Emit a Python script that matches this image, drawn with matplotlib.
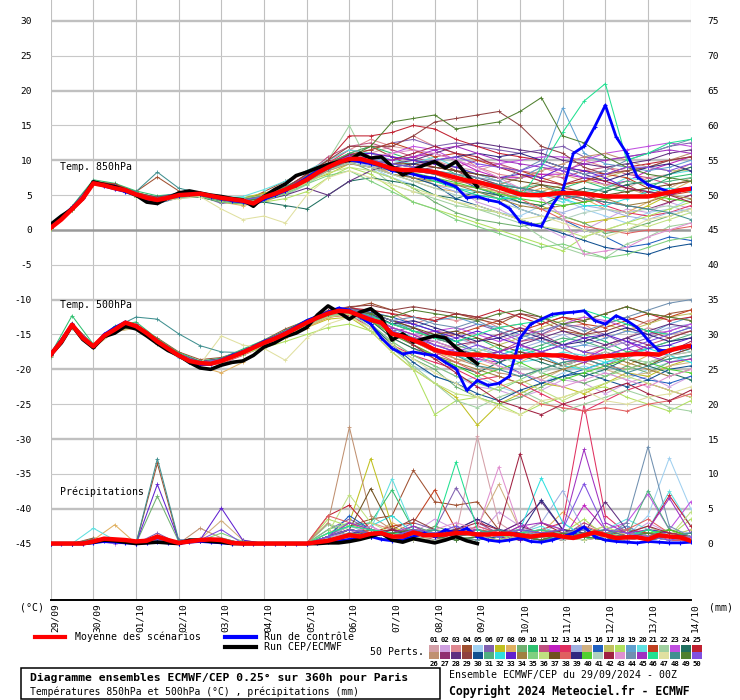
import matplotlib
matplotlib.use('Agg')
import matplotlib.pyplot as plt
from matplotlib.lines import Line2D
from matplotlib.patches import Rectangle
import numpy as np

# ---------------- DATA ----------------
date_labels = ['29/09', '30/09', '01/10', '02/10', '03/10', '04/10', '05/10', '06/10',
               '07/10', '08/10', '09/10', '10/10', '11/10', '12/10', '13/10', '14/10']
left_ticks = list(range(-45, 31, 5))
right_tick_labels = [str(v + 45) for v in left_ticks]

# thick series, 6-hourly (61 steps, 29/09 00Z -> 14/10 00Z)
mean850 = [0.3,1.5,3.0,4.5,6.7,6.4,6.0,5.7,5.1,4.6,4.3,4.6,5.0,5.1,5.2,4.9,4.6,4.4,4.2,3.8,
           4.7,5.2,5.8,6.4,7.2,8.2,9.0,9.7,10.2,10.2,9.8,9.3,8.8,8.6,8.6,8.5,8.3,7.9,7.5,7.1,
           6.9,6.5,6.1,5.6,5.1,5.0,5.0,5.2,5.3,5.3,5.2,5.0,4.8,4.8,4.8,4.8,4.8,5.1,5.4,5.7,5.9]
control850 = [0.5,1.8,3.2,4.6,6.8,6.3,5.9,5.5,5.0,4.5,4.2,4.6,4.9,5.1,5.1,4.8,4.5,4.2,4.0,3.6,
              4.4,5.0,5.6,6.5,7.5,8.5,9.3,9.8,10.0,9.8,9.5,9.2,8.5,8.3,8.0,7.6,7.4,6.8,6.2,4.6,
              4.8,4.3,4.0,3.1,1.2,0.8,0.5,3.5,5.7,11.0,12.0,14.8,17.9,13.4,11.0,7.6,6.5,6.0,5.5,5.8,6.0]
cep850 = [0.8,2.0,3.0,4.5,6.9,6.5,6.2,5.7,5.0,4.0,3.8,4.6,5.3,5.6,5.3,5.0,4.8,4.5,4.3,3.4,
          4.8,5.8,6.6,7.8,8.3,8.9,9.4,9.8,10.0,11.0,10.3,10.5,9.1,7.9,8.6,9.3,9.8,8.9,9.8,7.9,6.2]

mean500 = [-17.9,-16.0,-13.6,-15.5,-16.7,-15.2,-14.3,-13.3,-13.8,-14.8,
           -16.0,-17.0,-18.0,-18.8,-19.1,-19.2,-18.8,-18.2,-17.6,-16.9,
           -16.2,-15.6,-14.9,-14.1,-13.3,-12.6,-12.0,-11.6,-11.7,-12.3,
           -12.9,-13.3,-14.9,-15.3,-15.8,-16.4,-17.2,-17.6,-17.8,-17.9,
           -17.9,-18.0,-18.2,-18.2,-18.2,-18.0,-17.9,-18.0,-18.0,-18.3,
           -18.5,-18.3,-18.1,-18.0,-17.9,-17.8,-17.8,-17.9,-17.3,-16.9,-16.6]
control500 = [-17.8,-15.8,-13.5,-15.6,-16.8,-15.0,-14.0,-13.2,-13.9,-15.0,
              -16.2,-17.1,-18.1,-18.9,-19.3,-19.3,-18.7,-18.0,-17.5,-16.8,
              -16.0,-15.5,-14.8,-13.9,-13.0,-12.4,-11.8,-11.2,-11.5,-12.5,
              -13.5,-15.5,-17.0,-17.8,-17.5,-17.8,-18.0,-19.0,-19.9,-23.0,
              -21.6,-22.3,-22.0,-21.0,-15.5,-13.5,-12.8,-12.1,-11.9,-11.8,
              -11.6,-13.0,-13.5,-12.3,-13.0,-14.0,-15.8,-17.3,-17.3,-17.0,-16.6]
cep500 = [-17.9,-16.2,-13.7,-15.7,-16.9,-15.3,-14.8,-13.8,-14.2,-15.2,
          -16.3,-17.3,-18.0,-19.0,-19.8,-20.0,-19.4,-19.0,-18.8,-18.0,
          -16.8,-16.2,-15.3,-14.8,-14.0,-12.2,-10.9,-11.8,-12.8,-11.8,
          -11.3,-12.5,-15.8,-14.9,-16.1,-15.6,-15.2,-15.5,-16.9,-18.0,-19.2]

meanP = [0,0,0,0,0.3,0.7,0.6,0.5,0.3,0.4,1.0,0.5,0.1,0.3,0.5,0.6,0.5,0.1,0,0,
         0,0,0,0,0,0.2,0.4,0.8,1.2,1.0,1.4,1.5,1.0,1.0,1.6,1.2,1.2,1.3,1.5,1.5,
         1.3,1.3,1.4,1.4,1.2,1.0,1.2,1.3,1.0,0.8,1.2,1.6,1.2,0.8,0.9,0.9,0.6,1.2,1.0,0.9,0.4]
controlP = [0,0,0,0,0.1,0.3,0.2,0.1,0,0.1,0.2,0.1,0,0.2,0.3,0.2,0.1,0,0,0,
            0,0,0,0,0,0.1,0.2,0.4,0.6,0.8,1.0,0.6,0.4,0.5,1.0,1.5,1.0,2.0,1.5,2.2,
            1.0,0.5,0.3,0.5,0.8,0.3,0.2,0.5,1.0,1.5,2.4,1.0,0.5,0.3,0.2,0.1,0.3,0.2,0.1,0.1,0.2]
cepP = [0,0,0,0,0.2,0.5,0.4,0.2,0,0.1,0.2,0.1,0,0.5,0.5,0.3,0.2,0,0,0,
        0,0,0,0,0,0,0.1,0.1,0.3,0.6,1.0,1.5,0.5,0.2,0.7,0.4,0.1,0.5,1.0,0.4,0]

# 50 perturbed members, 12-hourly (31 steps)
member_colors = ['#d4a0a8','#d0a0e0','#e08890','#a05030','#a0d0f0','#8060b0','#c0c020','#e0b060','#70b070','#30c070',
                 '#c05080','#c020c0','#e03060','#a0b0e0','#d0b080','#2060c0','#c0c060','#b0e060','#60a0d0','#60e0e0',
                 '#c04020','#a0d0a0','#c050e0','#207060','#c02030','#c09070','#903070','#603080','#904040','#105090',
                 '#50b080','#30e0e0','#6020d0','#a08040','#80d080','#c0e080','#705020','#e06060','#302880','#50d030',
                 '#b0d0c0','#a02040','#e090d0','#7090b0','#a030c0','#20e090','#e0e0a0','#409090','#508030','#8050e0']

t850_members = [
 [0.5,2.8,6.5,6.0,4.8,4.5,5.2,5.0,4.0,3.8,4.5,5.5,7.5,9.5,10.5,11.0,12.0,11.5,10.0,9.0,8.5,9.5,8.0,7.0,6.5,5.0,4.0,6.0,7.5,8.0,9.0],
 [0.2,3.2,7.0,6.5,5.3,4.0,4.8,5.2,4.6,4.0,5.0,6.0,8.0,9.0,11.0,10.5,9.0,8.0,7.5,6.0,4.0,3.0,1.5,0.5,-1.0,0.0,1.5,3.0,2.5,4.0,3.0],
 [0.4,3.0,6.6,6.3,5.1,4.6,5.0,4.8,4.2,4.4,5.2,6.5,8.5,10.0,11.5,13.0,12.0,13.5,12.0,11.0,9.0,8.0,7.5,9.0,8.0,10.0,9.0,8.5,7.0,8.0,9.5],
 [0.6,3.3,7.0,6.6,5.5,7.6,5.6,5.0,4.5,4.0,5.5,7.0,8.5,9.5,11.0,12.0,10.5,9.0,10.0,8.5,7.0,6.0,5.5,6.5,5.0,4.0,5.5,6.5,5.0,4.0,5.0],
 [0.3,2.9,6.7,6.1,5.0,4.0,4.7,5.0,4.4,3.9,4.2,5.0,6.5,8.5,10.0,9.0,7.5,6.5,5.0,4.0,3.0,2.5,2.0,3.5,4.5,3.0,2.0,1.0,2.5,3.0,4.5],
 [0.2,3.1,6.9,6.0,5.2,4.3,5.1,4.9,3.8,4.1,4.8,6.2,7.8,9.2,10.8,11.5,12.5,13.0,12.0,12.5,12.0,11.5,11.0,11.5,12.0,10.5,10.0,10.5,11.0,12.0,12.5],
 [0.4,3.0,6.4,6.2,5.1,4.5,5.3,5.1,4.4,4.6,5.3,6.0,7.0,8.0,9.5,10.0,9.5,9.0,8.0,7.0,6.5,5.5,4.0,3.5,2.0,1.0,1.5,2.0,3.5,5.0,6.0],
 [0.3,2.8,6.6,6.4,5.4,4.6,5.0,5.2,4.0,3.5,4.0,5.2,7.0,8.8,10.2,9.5,8.0,7.0,6.0,5.5,4.5,4.0,5.0,6.0,5.5,4.5,3.0,2.5,4.0,5.5,7.0],
 [0.1,3.2,6.8,6.1,4.9,4.4,5.0,4.9,4.3,4.2,4.4,5.4,7.0,8.6,9.8,8.5,7.5,6.0,4.0,2.5,1.5,1.0,0.5,1.0,2.0,1.0,-0.5,0.0,1.0,2.0,3.0],
 [0.5,3.4,7.2,6.7,5.6,4.9,5.2,5.3,4.8,4.6,5.0,6.2,7.8,9.6,11.0,12.0,11.0,10.0,9.5,8.0,7.5,6.5,5.5,5.0,6.0,7.0,6.0,5.5,6.0,7.5,8.0],
 [0.2,3.0,6.7,6.3,5.2,4.3,4.9,5.0,4.3,4.1,4.6,5.8,8.0,10.5,12.0,12.5,11.5,10.5,9.5,9.0,10.0,9.5,8.5,8.0,7.5,8.5,9.0,8.0,7.5,6.5,7.0],
 [0.4,3.1,7.0,6.2,5.0,4.4,5.0,5.1,4.4,4.2,4.9,6.0,7.6,9.0,10.5,11.0,10.0,10.5,11.0,10.0,8.5,7.5,7.5,8.0,8.0,7.5,6.5,7.0,8.5,9.5,10.5],
 [0.6,3.2,6.6,6.0,5.0,4.1,4.6,5.0,4.1,4.0,4.7,5.6,7.4,9.6,11.5,11.0,10.5,10.0,9.0,8.5,8.0,7.0,6.0,5.0,4.5,5.0,3.5,2.5,2.0,2.5,3.5],
 [0.3,2.9,6.8,6.2,5.1,4.2,5.0,5.0,4.3,4.3,4.8,5.8,7.2,8.8,10.0,9.2,8.5,8.0,6.5,5.5,5.0,4.5,4.0,3.0,2.5,3.5,3.0,2.0,1.5,2.5,3.0],
 [0.2,2.8,6.5,6.1,4.8,4.0,4.8,4.9,4.2,3.9,4.3,5.3,6.8,8.6,9.8,9.5,8.0,7.5,6.5,6.0,5.5,5.0,6.0,7.0,8.0,7.0,6.5,6.0,5.0,6.0,7.5],
 [0.5,3.3,6.9,6.5,5.3,4.7,5.3,5.2,4.5,4.4,5.0,6.0,7.5,9.2,10.4,10.0,9.0,8.5,8.0,7.5,6.0,5.0,3.0,2.0,1.5,0.0,-1.0,-2.5,-2.0,-1.0,-1.5],
 [0.4,3.0,6.7,6.0,4.9,4.3,5.0,4.8,4.5,4.5,5.0,6.0,7.0,8.5,9.5,9.0,8.0,7.0,7.0,6.5,6.0,5.5,5.0,5.5,6.5,7.0,7.5,8.5,9.0,8.5,8.5],
 [0.2,3.1,6.8,6.2,5.0,4.1,4.7,4.7,4.0,3.7,4.0,4.5,5.5,7.5,9.0,8.0,6.0,4.0,3.0,2.0,1.0,0.0,-1.0,-2.0,-3.0,-1.0,0.0,1.0,2.0,3.0,4.0],
 [0.3,3.0,6.9,6.4,5.2,4.4,5.1,5.2,4.4,4.1,4.5,5.5,7.0,9.0,10.4,10.5,9.5,9.0,8.5,7.5,7.0,6.5,7.5,9.0,17.5,11.0,9.5,9.0,8.5,9.0,10.0],
 [0.4,3.2,6.8,6.1,5.0,4.5,5.2,5.0,4.6,4.8,5.8,7.0,8.5,10.0,11.5,11.0,10.0,9.5,10.5,9.0,8.0,7.0,6.0,5.0,4.0,5.5,6.0,7.5,7.0,8.0,8.5],
 [0.6,3.1,6.9,6.6,5.4,4.6,5.0,5.1,4.3,4.0,4.6,5.8,7.6,9.2,10.8,11.5,12.5,11.5,10.5,11.0,10.0,9.0,8.5,7.5,6.5,7.0,8.0,7.5,6.0,5.0,5.5],
 [0.2,2.9,6.7,6.0,4.8,4.2,4.8,5.0,4.2,3.9,4.3,5.0,6.5,10.0,15.0,9.0,6.5,5.5,4.5,3.5,3.0,2.0,1.0,-1.0,-2.5,-3.5,-4.0,-2.0,-1.0,0.5,1.0],
 [0.3,3.0,6.8,6.3,5.1,4.3,5.0,5.0,4.4,4.2,4.7,5.9,7.4,9.4,10.6,10.0,11.0,12.0,11.5,10.0,9.0,9.5,10.0,10.5,10.5,10.0,11.0,11.5,12.0,12.5,12.0],
 [0.4,3.1,6.6,6.0,5.0,4.0,4.6,4.7,4.0,3.8,4.0,3.5,3.0,5.0,7.0,7.5,7.0,6.5,5.0,4.5,5.5,5.0,4.0,3.5,5.0,6.0,5.5,6.5,7.0,8.0,9.0],
 [0.5,3.2,6.9,6.4,5.2,4.5,5.1,5.0,4.3,4.1,4.8,6.0,8.0,10.0,13.5,13.5,14.0,15.0,14.5,13.0,12.0,11.0,10.5,10.0,9.0,8.5,8.0,9.0,9.5,10.0,10.5],
 [0.3,3.0,6.7,6.1,4.9,4.2,4.9,5.0,4.5,4.3,4.6,5.5,7.0,8.5,9.5,9.0,8.5,8.0,7.5,6.5,6.0,6.5,7.5,8.5,9.5,10.5,11.0,10.0,9.0,10.0,11.0],
 [0.4,3.1,6.8,6.3,5.0,4.4,5.0,5.1,4.2,4.2,4.8,5.8,7.3,9.0,10.0,9.5,9.0,8.5,9.0,8.5,7.5,6.5,6.0,5.5,5.0,4.5,4.0,3.5,3.0,4.0,5.0],
 [0.2,2.9,6.6,6.2,5.0,4.1,4.8,4.9,4.0,3.9,4.3,5.0,6.0,5.0,7.0,8.5,9.5,10.0,11.0,12.0,12.5,12.0,11.5,11.0,10.0,9.5,9.0,9.5,10.0,11.0,11.5],
 [0.5,3.2,6.9,6.5,5.3,4.7,5.2,5.1,4.4,4.2,4.8,6.0,8.0,10.0,12.0,12.0,12.0,13.5,15.5,16.0,16.5,17.0,15.0,12.0,11.0,9.0,8.0,8.5,9.0,10.0,10.5],
 [0.3,3.0,6.7,6.0,4.8,3.8,4.6,4.8,4.1,4.0,4.4,5.4,7.0,8.7,10.0,9.5,8.5,7.5,6.5,4.5,3.5,2.5,1.5,0.5,-0.5,-1.5,-2.5,-3.0,-3.5,-2.5,-2.0],
 [0.4,3.1,6.9,6.2,5.1,4.4,5.1,5.0,4.3,4.3,4.9,6.0,7.5,9.0,10.5,10.0,9.5,9.0,8.5,8.0,7.0,6.5,6.0,6.5,5.5,5.0,6.0,7.0,6.5,7.0,7.5],
 [0.2,3.0,6.8,6.1,5.0,4.3,4.9,5.0,4.4,4.1,4.7,5.7,7.2,9.0,10.2,9.5,8.5,8.0,7.0,6.0,5.5,4.5,5.0,5.5,4.5,3.5,3.5,4.5,5.5,6.0,5.5],
 [0.5,3.2,6.8,6.4,5.1,4.4,5.0,5.2,4.5,4.2,4.6,5.6,7.2,9.2,10.8,11.0,10.5,10.0,9.5,9.0,8.0,7.5,8.0,7.5,9.0,8.5,7.5,6.0,5.5,5.0,6.0],
 [0.3,3.0,6.6,6.2,5.1,4.2,4.9,4.9,4.3,4.1,4.6,5.6,7.0,8.6,9.6,9.0,8.0,7.5,7.0,6.5,5.5,4.5,3.5,3.0,3.5,4.0,4.5,3.5,4.0,5.0,4.5],
 [0.2,2.9,6.7,6.1,4.8,4.0,4.7,4.8,4.0,3.8,4.2,5.2,6.6,7.8,8.5,7.0,5.5,4.0,3.0,1.5,0.5,-0.5,-1.5,-2.5,-2.0,-3.0,-4.0,-3.5,-2.5,-1.5,-1.0],
 [0.3,3.0,6.8,6.2,5.0,4.2,4.9,5.0,4.2,4.0,4.5,5.4,6.8,8.2,9.0,8.5,7.5,6.0,5.0,4.0,3.0,2.5,1.5,0.5,0.0,-1.0,0.0,1.0,0.5,1.5,2.5],
 [0.4,3.1,6.9,6.3,5.1,4.4,5.0,5.1,4.4,4.3,4.8,5.8,7.4,9.2,10.4,10.0,9.5,9.5,9.0,8.5,8.0,7.5,7.0,6.5,6.0,5.5,5.0,5.5,6.0,6.5,7.0],
 [0.5,3.2,6.8,6.3,5.2,4.5,5.1,5.0,4.4,4.2,4.7,5.8,7.3,9.1,10.3,9.8,9.0,8.5,8.0,7.0,6.5,5.5,4.5,3.0,1.5,0.5,0.0,-0.5,0.0,0.0,0.5],
 [0.3,3.0,6.7,6.2,5.0,4.3,5.0,5.0,4.3,4.2,4.7,5.7,7.0,8.8,10.0,9.5,9.0,9.5,10.0,10.5,11.0,10.5,11.0,10.0,9.0,8.0,7.0,8.0,9.0,9.5,8.5],
 [0.2,2.9,6.8,6.2,5.0,4.3,5.0,5.0,4.3,4.3,4.8,5.8,7.2,9.0,10.2,9.6,8.6,8.2,7.5,6.8,6.0,5.2,4.5,4.0,3.5,4.0,4.5,5.0,5.0,4.5,4.0],
 [0.4,3.0,6.7,6.1,4.9,4.2,4.9,5.0,4.3,4.2,4.7,5.6,7.0,8.6,9.6,9.0,8.0,7.0,6.0,5.0,4.5,4.0,3.0,2.0,1.5,2.5,3.0,2.5,3.0,3.5,2.5],
 [0.5,3.2,6.9,6.4,5.2,4.4,5.0,5.1,4.4,4.2,4.8,5.9,7.6,9.4,10.8,10.5,10.0,11.0,12.0,11.0,10.5,9.0,8.0,7.0,6.5,7.5,7.0,6.0,5.5,5.0,4.0],
 [0.3,3.0,6.7,6.2,5.0,4.2,4.9,5.0,4.3,4.2,4.6,5.6,7.0,8.8,10.0,10.5,11.0,11.5,11.0,10.0,9.0,7.5,6.0,4.5,2.0,-3.5,-3.0,-2.5,-1.0,0.0,1.0],
 [0.4,3.1,6.8,6.3,5.1,4.3,5.0,5.1,4.4,4.2,4.7,5.7,7.2,9.0,10.2,10.0,9.5,9.0,8.5,8.0,7.5,7.0,8.5,10.0,9.0,8.0,8.5,10.0,11.0,12.0,13.0],
 [0.3,3.0,6.8,6.2,5.0,4.2,4.9,5.0,4.3,4.1,4.6,5.6,7.1,8.9,10.1,10.5,10.0,10.5,11.5,12.0,11.0,10.0,9.5,9.0,8.5,9.5,10.0,10.5,11.0,11.5,11.0],
 [0.4,3.1,6.8,6.2,5.0,4.3,5.0,5.0,4.3,4.2,4.8,5.8,7.2,9.0,10.2,9.5,8.5,8.0,7.0,6.0,5.0,4.5,4.5,9.0,14.0,18.5,21.0,10.0,11.0,12.5,13.0],
 [0.2,2.9,6.6,6.0,4.8,4.0,4.5,4.8,3.0,1.5,2.0,1.0,5.0,7.5,8.5,7.5,6.5,5.5,5.0,4.0,3.5,2.5,1.5,2.0,1.0,0.0,-1.0,0.0,1.5,2.0,3.0],
 [0.4,3.0,6.8,6.3,5.5,8.3,6.0,5.3,4.4,4.2,4.6,5.6,7.0,8.7,10.0,9.5,9.0,8.5,8.0,7.5,7.0,6.5,6.0,5.5,5.0,4.5,4.0,3.5,3.0,2.5,1.5],
 [0.3,3.0,6.7,6.2,5.0,4.2,4.9,5.0,4.3,4.1,4.6,5.7,7.2,9.0,10.4,12.0,15.5,16.0,16.5,14.5,15.0,15.5,17.0,19.0,13.5,12.5,10.5,9.0,8.0,7.5,7.0],
 [0.4,3.1,6.9,6.3,5.1,4.4,5.0,5.1,4.4,4.3,4.8,5.9,7.5,9.3,10.6,10.0,9.5,9.0,10.0,10.5,9.5,9.0,8.5,9.5,8.5,7.5,8.0,9.0,9.0,8.5,9.5],
]

t500_members = [
 [-18.0,-13.8,-16.8,-14.0,-13.5,-15.8,-17.8,-19.0,-18.5,-17.2,-16.0,-14.5,-13.0,-11.5,-11.0,-12.0,-14.0,-15.0,-16.5,-17.0,-16.0,-15.0,-16.5,-18.0,-19.5,-18.0,-17.0,-15.5,-14.0,-15.0,-14.5],
 [-17.6,-13.5,-16.6,-14.2,-13.6,-16.2,-18.2,-19.3,-19.0,-17.8,-16.3,-15.0,-13.5,-12.2,-11.8,-13.5,-16.0,-18.0,-19.5,-21.0,-22.5,-23.0,-24.0,-23.0,-21.5,-22.0,-23.5,-22.0,-21.0,-22.5,-21.0],
 [-18.1,-13.7,-16.9,-14.1,-13.7,-16.0,-18.1,-19.2,-18.7,-17.5,-16.1,-14.6,-13.2,-11.8,-11.3,-11.5,-12.0,-13.5,-12.5,-13.0,-12.5,-14.0,-13.5,-15.0,-14.0,-13.5,-15.5,-14.5,-13.0,-12.5,-13.0],
 [-17.8,-13.9,-16.7,-14.5,-13.8,-15.5,-17.5,-18.6,-18.3,-17.3,-15.8,-14.2,-13.0,-11.7,-11.2,-10.5,-11.5,-12.5,-13.0,-12.0,-12.8,-13.5,-12.0,-13.0,-14.5,-15.0,-13.5,-12.5,-13.5,-12.0,-11.5],
 [-17.9,-13.6,-16.6,-14.4,-14.0,-16.3,-18.4,-19.4,-19.0,-17.9,-16.5,-15.2,-13.8,-12.4,-12.0,-14.0,-17.0,-19.5,-21.0,-22.0,-21.0,-22.5,-23.5,-22.0,-20.5,-19.5,-20.5,-21.5,-20.0,-19.0,-18.0],
 [-18.0,-13.7,-16.7,-14.3,-13.7,-15.9,-17.9,-19.0,-18.6,-17.4,-16.0,-14.7,-13.2,-11.9,-11.5,-12.5,-14.5,-14.0,-15.5,-14.5,-13.5,-14.5,-16.0,-15.0,-13.5,-14.0,-15.0,-16.5,-15.5,-14.5,-13.5],
 [-17.7,-13.4,-16.5,-14.0,-13.5,-15.8,-17.9,-19.1,-18.8,-17.7,-16.6,-15.5,-14.0,-12.8,-12.5,-14.5,-17.5,-20.0,-22.0,-24.0,-28.0,-25.0,-23.5,-22.0,-22.5,-23.5,-22.0,-20.5,-21.0,-19.5,-18.5],
 [-17.9,-13.8,-16.8,-14.6,-14.0,-16.2,-18.3,-19.6,-20.5,-19.0,-17.0,-15.5,-14.0,-12.6,-12.0,-13.0,-14.5,-16.0,-17.5,-18.5,-19.0,-20.0,-19.0,-17.5,-16.5,-17.5,-18.5,-19.5,-18.0,-17.0,-16.5],
 [-18.2,-14.0,-16.9,-14.4,-13.9,-16.1,-18.0,-19.2,-18.9,-17.6,-16.2,-14.9,-13.4,-12.1,-11.7,-13.5,-16.5,-18.5,-20.0,-22.5,-24.0,-25.0,-24.0,-22.5,-21.0,-22.0,-21.0,-19.5,-20.5,-19.0,-18.5],
 [-17.8,-12.3,-16.4,-13.8,-13.2,-15.6,-17.6,-18.8,-18.4,-17.1,-15.8,-14.4,-12.9,-11.6,-11.2,-12.0,-13.0,-14.5,-15.0,-16.0,-15.5,-17.0,-18.0,-17.0,-16.0,-15.0,-16.0,-17.5,-17.0,-16.0,-15.5],
 [-17.9,-13.6,-16.8,-14.2,-13.7,-16.0,-18.1,-19.1,-18.8,-17.6,-16.3,-15.0,-13.3,-11.8,-11.3,-12.5,-14.0,-15.5,-14.5,-15.0,-16.5,-17.5,-16.0,-15.5,-17.0,-18.5,-19.5,-18.0,-16.5,-15.5,-14.5],
 [-18.0,-13.7,-16.7,-14.3,-13.8,-16.1,-18.0,-19.0,-18.6,-17.4,-15.9,-14.6,-13.1,-11.9,-11.4,-12.8,-15.0,-16.5,-18.0,-17.0,-18.5,-19.0,-17.5,-18.0,-19.5,-18.5,-17.0,-16.0,-17.5,-18.0,-17.0],
 [-17.8,-13.5,-16.6,-14.1,-13.6,-15.9,-18.2,-19.3,-19.2,-18.0,-16.7,-15.3,-13.8,-12.5,-12.2,-14.0,-16.5,-18.0,-19.0,-20.0,-21.5,-21.0,-22.0,-23.5,-25.0,-26.0,-24.5,-23.0,-22.0,-23.0,-24.0],
 [-17.9,-13.7,-16.7,-14.2,-13.7,-16.0,-18.0,-19.1,-18.8,-17.6,-16.2,-14.9,-13.3,-12.0,-11.6,-12.5,-14.0,-15.0,-16.0,-15.5,-16.5,-18.0,-17.0,-16.0,-15.0,-16.5,-17.0,-16.0,-15.0,-14.0,-13.5],
 [-18.1,-13.9,-16.9,-14.6,-14.1,-16.4,-18.3,-19.4,-19.1,-17.9,-16.5,-15.2,-13.6,-12.3,-11.9,-13.0,-15.5,-17.0,-18.5,-19.0,-18.0,-19.5,-20.5,-21.5,-20.0,-19.0,-20.0,-21.0,-20.5,-19.5,-19.0],
 [-17.8,-13.6,-16.6,-14.1,-13.6,-15.8,-17.8,-18.9,-18.5,-17.3,-15.9,-14.5,-13.0,-11.6,-11.2,-11.8,-12.5,-13.5,-14.5,-16.0,-17.5,-19.0,-20.5,-22.0,-21.0,-20.0,-19.0,-20.5,-21.5,-22.0,-21.0],
 [-17.9,-13.7,-16.8,-14.3,-13.8,-16.1,-18.1,-19.2,-18.8,-17.6,-16.2,-14.8,-13.2,-11.9,-11.5,-13.0,-15.0,-16.0,-17.0,-18.0,-17.5,-16.5,-15.5,-14.0,-13.0,-12.5,-13.5,-14.5,-13.5,-12.5,-12.0],
 [-18.0,-13.8,-16.7,-14.4,-13.9,-16.2,-18.2,-19.3,-18.9,-17.8,-16.9,-16.0,-15.0,-14.0,-13.5,-14.5,-16.0,-20.0,-26.5,-24.5,-24.0,-25.0,-26.5,-25.0,-24.0,-23.0,-22.5,-24.0,-25.0,-26.0,-24.5],
 [-17.9,-13.6,-16.7,-14.2,-13.7,-16.0,-18.0,-19.1,-18.7,-17.5,-16.1,-14.8,-13.2,-11.9,-11.5,-12.3,-13.5,-14.0,-13.0,-12.5,-13.5,-14.0,-15.0,-16.0,-17.0,-16.5,-15.5,-14.5,-15.0,-13.5,-12.5],
 [-17.8,-13.5,-16.6,-14.1,-13.6,-15.9,-17.9,-19.0,-18.6,-17.4,-16.0,-14.6,-13.0,-11.7,-11.3,-12.6,-14.5,-16.0,-17.5,-18.0,-17.0,-18.0,-19.0,-18.5,-17.5,-18.0,-19.0,-18.5,-17.0,-16.5,-17.5],
 [-18.0,-13.7,-16.8,-14.4,-13.9,-16.2,-18.1,-19.1,-18.7,-17.5,-16.1,-14.7,-13.1,-11.8,-11.3,-12.0,-13.5,-14.5,-15.5,-15.0,-14.0,-13.0,-14.5,-13.5,-12.5,-13.5,-14.0,-13.0,-12.0,-12.5,-11.5],
 [-17.9,-13.6,-16.7,-14.3,-13.7,-16.0,-18.0,-19.0,-18.7,-17.5,-16.2,-14.9,-13.4,-12.1,-11.7,-14.0,-17.0,-19.5,-22.0,-24.5,-25.5,-24.0,-23.0,-24.5,-26.0,-25.0,-24.0,-23.0,-24.0,-25.5,-26.0],
 [-18.0,-13.8,-16.8,-14.2,-13.6,-15.9,-17.9,-19.0,-18.6,-17.4,-16.0,-14.6,-13.1,-11.8,-11.4,-12.5,-14.0,-15.0,-14.5,-14.0,-15.0,-16.0,-15.0,-14.5,-13.5,-12.5,-13.0,-14.0,-15.0,-14.5,-13.5],
 [-17.8,-13.6,-16.6,-14.2,-13.7,-16.0,-18.1,-19.2,-18.8,-17.6,-16.2,-14.8,-13.2,-11.9,-11.6,-13.0,-15.5,-17.0,-18.0,-19.5,-20.5,-19.0,-18.0,-19.0,-20.0,-21.0,-20.0,-18.5,-19.5,-20.5,-21.5],
 [-18.0,-13.8,-16.8,-14.4,-13.9,-16.1,-18.0,-19.0,-18.7,-17.5,-16.0,-14.6,-13.0,-11.7,-11.2,-11.5,-12.0,-12.5,-13.0,-12.0,-12.5,-11.5,-12.5,-13.5,-12.5,-13.0,-12.0,-11.0,-12.0,-13.0,-12.5],
 [-17.9,-13.7,-16.7,-14.3,-13.8,-16.0,-18.0,-19.1,-18.8,-17.6,-16.3,-15.0,-13.4,-12.0,-11.6,-12.5,-14.5,-16.0,-17.0,-18.5,-19.5,-20.5,-21.0,-20.0,-19.0,-18.5,-19.5,-20.0,-19.0,-18.0,-17.5],
 [-17.8,-13.5,-16.6,-14.1,-13.5,-15.8,-17.8,-18.9,-18.5,-17.3,-15.9,-14.5,-13.0,-11.6,-11.2,-12.0,-13.0,-14.0,-15.5,-16.5,-16.0,-15.0,-14.0,-15.0,-16.5,-17.5,-16.5,-15.5,-16.5,-17.5,-16.0],
 [-18.0,-13.7,-16.8,-14.3,-13.8,-16.1,-18.2,-19.3,-18.9,-17.7,-16.3,-14.9,-13.3,-11.9,-11.5,-12.8,-14.5,-15.5,-16.0,-17.0,-18.0,-17.5,-16.5,-15.5,-14.5,-15.5,-16.5,-15.5,-14.5,-13.5,-14.0],
 [-17.9,-13.6,-16.7,-14.2,-13.7,-16.0,-18.0,-19.0,-18.7,-17.5,-16.1,-14.7,-13.1,-11.8,-11.0,-10.8,-11.5,-11.0,-11.5,-12.0,-12.5,-13.0,-12.0,-12.5,-14.0,-15.0,-14.5,-13.5,-14.5,-15.5,-14.5],
 [-17.8,-13.6,-16.6,-14.2,-13.6,-15.9,-18.0,-19.1,-18.8,-17.6,-16.2,-14.8,-13.3,-12.0,-11.6,-13.5,-16.5,-19.0,-21.0,-22.0,-23.5,-24.5,-23.0,-22.0,-21.0,-20.5,-21.5,-22.5,-21.5,-20.0,-19.5],
 [-18.0,-13.8,-16.8,-14.4,-13.9,-16.2,-18.1,-19.2,-18.9,-17.7,-16.3,-14.9,-13.4,-12.0,-11.6,-12.2,-13.5,-14.5,-15.5,-16.5,-17.5,-18.5,-17.5,-16.5,-15.5,-16.0,-17.0,-18.0,-17.0,-16.0,-15.0],
 [-17.9,-13.6,-16.7,-14.3,-13.7,-16.0,-18.0,-19.0,-18.6,-17.4,-16.0,-14.7,-13.1,-11.8,-11.4,-12.5,-14.0,-15.5,-17.0,-18.0,-19.0,-18.0,-17.0,-18.0,-19.5,-20.0,-19.0,-18.0,-17.0,-18.0,-19.0],
 [-18.0,-13.7,-16.8,-14.2,-13.7,-16.1,-18.1,-19.1,-18.7,-17.6,-16.2,-14.8,-13.2,-11.9,-11.5,-12.0,-13.0,-13.5,-14.5,-15.5,-14.5,-15.5,-16.5,-17.5,-16.5,-15.5,-15.0,-16.0,-17.0,-16.5,-15.5],
 [-17.8,-13.5,-16.6,-14.1,-13.6,-15.9,-17.9,-19.0,-18.6,-17.4,-16.0,-14.6,-13.1,-11.8,-11.4,-12.5,-14.5,-16.5,-18.0,-19.0,-20.0,-21.0,-22.0,-21.0,-20.0,-19.0,-18.0,-19.0,-20.0,-21.0,-20.0],
 [-17.9,-13.7,-16.7,-14.3,-13.8,-16.1,-18.1,-19.2,-18.9,-17.8,-16.4,-15.1,-13.6,-12.3,-11.9,-13.5,-16.0,-18.0,-19.5,-21.0,-22.0,-23.0,-21.5,-20.0,-19.0,-20.0,-21.0,-20.0,-19.0,-18.5,-18.0],
 [-18.0,-13.8,-16.8,-14.4,-13.9,-16.2,-18.2,-19.3,-19.0,-17.9,-16.6,-15.3,-13.8,-12.5,-12.1,-14.5,-17.5,-20.0,-22.0,-23.5,-24.0,-22.5,-21.5,-23.0,-24.5,-23.0,-22.0,-21.0,-22.0,-23.0,-24.0],
 [-17.9,-13.6,-16.7,-14.2,-13.7,-16.0,-18.0,-19.0,-18.6,-17.4,-16.0,-14.6,-13.0,-11.7,-11.3,-12.0,-13.0,-14.0,-15.0,-14.5,-15.5,-16.5,-17.5,-18.5,-19.5,-18.5,-17.5,-18.5,-19.5,-18.0,-17.0],
 [-17.8,-13.5,-16.6,-14.1,-13.6,-15.9,-17.9,-19.0,-18.7,-17.5,-16.1,-14.7,-13.2,-11.9,-11.5,-12.5,-14.5,-16.0,-17.5,-19.0,-20.5,-22.0,-23.5,-25.0,-25.5,-26.0,-25.5,-26.0,-25.0,-24.5,-23.5],
 [-18.0,-13.7,-16.8,-14.3,-13.8,-16.1,-18.1,-19.1,-18.8,-17.6,-16.2,-14.8,-13.2,-11.9,-11.5,-12.0,-13.5,-13.0,-14.0,-15.0,-16.0,-15.5,-14.5,-15.5,-16.5,-16.0,-15.0,-14.0,-15.0,-16.0,-15.5],
 [-17.9,-13.6,-16.7,-14.2,-13.7,-16.0,-18.0,-19.0,-18.7,-17.5,-16.1,-14.8,-13.2,-11.9,-11.5,-13.0,-15.0,-16.5,-18.0,-19.5,-21.0,-20.0,-19.0,-20.5,-21.5,-20.5,-19.5,-18.5,-19.0,-20.0,-20.5],
 [-18.0,-13.7,-16.8,-14.4,-13.9,-16.2,-18.1,-19.2,-18.8,-17.6,-16.2,-14.8,-13.3,-12.0,-11.6,-12.8,-14.5,-15.5,-16.5,-17.5,-17.0,-18.0,-19.5,-20.5,-19.5,-18.5,-17.5,-18.5,-19.0,-18.0,-17.5],
 [-17.8,-13.5,-16.6,-14.1,-13.6,-15.9,-17.9,-19.0,-18.6,-17.4,-16.0,-14.6,-13.1,-11.7,-11.3,-12.5,-14.5,-16.5,-18.5,-20.5,-22.5,-24.5,-25.5,-26.5,-25.0,-24.0,-23.0,-22.0,-23.5,-24.5,-23.0],
 [-17.9,-13.6,-16.7,-14.3,-13.7,-16.0,-18.0,-19.1,-18.7,-17.5,-16.1,-14.7,-13.2,-11.9,-11.5,-12.5,-14.0,-15.0,-16.0,-17.0,-18.5,-19.5,-20.5,-21.5,-22.5,-21.5,-20.5,-21.5,-22.5,-21.0,-20.0],
 [-18.0,-13.7,-16.8,-14.3,-13.8,-16.1,-18.0,-19.0,-18.6,-17.4,-16.0,-14.6,-13.1,-11.8,-11.3,-12.0,-13.0,-12.5,-13.5,-14.0,-13.0,-14.5,-15.5,-14.5,-13.5,-14.5,-13.5,-12.5,-11.5,-10.5,-10.0],
 [-17.9,-13.6,-16.7,-14.2,-13.7,-16.0,-18.1,-19.1,-18.8,-17.6,-16.2,-14.8,-13.3,-12.0,-11.6,-12.6,-14.0,-15.0,-16.5,-17.5,-18.5,-17.5,-16.5,-17.5,-18.5,-19.0,-18.0,-17.0,-18.0,-19.0,-18.5],
 [-17.8,-13.5,-16.6,-14.1,-13.6,-15.9,-17.9,-19.0,-18.6,-17.4,-16.0,-14.6,-13.1,-11.8,-11.4,-12.4,-13.5,-14.5,-15.5,-16.0,-15.0,-14.0,-13.5,-13.0,-12.0,-11.5,-12.5,-13.5,-14.5,-15.0,-14.0],
 [-18.0,-13.8,-16.9,-14.5,-14.0,-16.3,-18.2,-19.3,-15.2,-16.5,-17.0,-18.7,-15.5,-13.5,-12.5,-14.0,-16.5,-18.5,-20.5,-22.0,-24.0,-25.5,-26.5,-24.5,-24.0,-23.0,-24.5,-25.0,-24.0,-23.5,-22.5],
 [-17.9,-13.7,-16.7,-14.0,-12.5,-12.8,-14.9,-16.6,-17.5,-17.6,-16.5,-15.0,-13.4,-12.0,-11.6,-12.8,-14.5,-16.0,-17.0,-18.0,-19.5,-20.0,-21.0,-20.0,-19.0,-18.5,-19.5,-20.5,-19.5,-18.5,-18.0],
 [-18.0,-13.7,-16.8,-14.4,-13.9,-16.2,-18.1,-19.2,-18.9,-17.7,-16.3,-14.9,-13.3,-12.0,-11.6,-12.0,-12.5,-11.5,-12.0,-12.5,-13.0,-12.0,-11.5,-12.5,-13.5,-13.0,-12.0,-11.0,-12.0,-12.5,-13.0],
 [-17.8,-13.5,-16.6,-14.1,-13.6,-15.9,-17.9,-19.0,-18.6,-17.4,-16.0,-14.6,-13.1,-11.8,-11.4,-12.5,-14.5,-15.5,-16.5,-17.5,-16.5,-17.5,-18.5,-17.5,-16.5,-17.5,-18.0,-17.0,-16.0,-15.0,-14.0],
]

precip_members = [
 [0,0,0.5,0,0,0.8,0,0.3,0.5,0,0,0,0, 0.5,1.5,2.0,1.0,0.5,2.5,1.5,15.4,3.0,1.0,0.5,2.0,1.0,0.5,1.5,0.5,1.0,0.5],
 [0,0,0.3,0,0,0.5,0,0.6,0.8,0,0,0,0, 0.8,2.0,1.0,0.5,1.5,3.5,2.0,1.0,4.5,2.5,1.0,0.5,1.5,2.0,1.0,3.0,1.5,0.5],
 [0,0,0.6,0.3,0,0.4,0,0.5,0.4,0,0,0,0, 0.3,1.0,3.0,2.0,1.0,0.5,2.0,1.0,0.5,1.5,3.0,2.0,1.0,0.5,0.5,1.0,2.0,1.0],
 [0,0,0.8,0.5,0,11.5,0.3,0.4,0.3,0,0,0,0, 1.0,2.5,3.5,4.0,10.5,6.0,5.5,6.0,2.0,1.0,0.5,1.5,1.0,0.5,2.0,1.0,0.5,0.5],
 [0,0,0.4,0.2,0,0.6,0,0.8,0.6,0,0,0,0, 0.5,1.5,1.0,0.5,1.0,2.0,1.0,0.5,1.0,2.0,1.5,3.0,1.0,0.5,1.0,4.0,12.3,5.0],
 [0,0,0.5,0.3,0,1.5,0,0.5,0.7,0,0,0,0, 2.0,3.5,2.0,1.5,3.0,2.0,8.0,3.0,1.5,1.0,2.0,1.5,0.5,1.0,2.5,1.0,0.5,1.0],
 [0,0,0.3,0.4,0,0.8,0,0.3,0.5,0,0,0,0, 1.0,3.0,12.2,2.5,1.0,1.5,0.5,1.0,2.0,1.0,0.5,1.5,1.0,0.5,0.5,1.0,1.5,0.5],
 [0,0,0.5,2.7,0,0.5,0,0.5,0.6,0,0,0,0, 0.5,2.0,1.0,3.0,1.5,1.0,2.0,1.5,1.0,0.5,1.5,4.5,2.0,1.0,1.5,2.5,1.0,0.5],
 [0,0,0.6,0.3,0,6.8,0.3,0.4,0.5,0,0,0,0, 2.8,1.0,1.5,2.0,1.0,2.5,1.5,1.0,0.5,2.0,1.0,0.5,1.0,1.5,2.0,1.0,0.5,1.0],
 [0,0,0.4,0.2,0,0.6,0,0.3,0.4,0,0,0,0, 1.5,2.5,3.0,7.7,2.0,1.0,1.5,2.0,1.0,0.5,1.0,2.0,1.5,1.0,0.5,2.0,1.0,1.0],
 [0,0,0.5,0.3,0,0.7,0,0.6,0.8,0,0,0,0, 1.0,2.0,1.5,1.0,2.5,1.5,2.0,3.5,1.0,2.0,1.5,1.0,3.0,1.5,1.0,0.5,1.5,1.0],
 [0,0,0.4,0.2,0,0.5,0,0.3,0.5,0,0,0,0, 0.5,1.5,2.0,1.0,0.5,1.0,2.0,1.0,1.5,3.0,1.0,0.5,5.5,2.0,1.0,1.5,0.5,1.0],
 [0,0,0.3,0.4,0,0.6,0,0.4,0.6,0,0,0,0, 0.8,1.5,1.0,2.0,1.5,0.5,1.0,2.0,1.0,1.5,2.0,3.0,20.0,4.0,1.5,1.0,0.5,0.5],
 [0,0,0.5,0.3,0,0.8,0,0.5,0.7,0,0,0,0, 1.0,2.5,1.5,1.0,2.0,1.0,1.5,1.0,2.0,1.5,3.0,7.6,2.0,1.0,0.5,1.0,2.0,1.5],
 [0,0,0.6,0.4,0,0.8,0,0.6,3.3,0.5,0,0,0, 1.5,3.0,2.0,1.5,1.0,2.0,1.5,2.5,8.5,2.0,1.0,1.5,2.0,1.0,0.5,1.0,1.5,1.0],
 [0,0,0.4,0.2,0,0.5,0,0.4,0.5,0,0,0,0, 1.0,4.0,2.0,1.0,1.5,1.0,0.5,1.0,2.0,1.0,0.5,1.5,2.5,1.0,0.5,1.0,1.5,0.5],
 [0,0,0.5,0.3,0,0.7,0,0.5,0.6,0,0,0,0, 0.5,1.0,2.0,1.5,1.0,0.5,1.5,2.0,1.0,0.5,1.0,2.0,1.5,2.5,1.0,0.5,1.0,2.0],
 [0,0,0.4,0.3,0,0.6,0,0.3,0.5,0,0,0,0, 3.5,2.5,2.0,1.0,1.5,2.0,1.0,1.5,0.5,2.0,1.0,1.5,3.5,1.0,2.0,1.5,1.0,3.5],
 [0,0,0.5,0.2,0,0.6,0,0.4,0.7,0,0,0,0, 0.8,1.5,1.0,2.0,1.0,1.5,2.5,1.0,0.5,1.5,2.0,1.0,0.5,1.5,2.5,1.0,0.5,1.0],
 [0,0,2.2,0.5,0,0.6,0,0.5,0.6,0,0,0,0, 1.0,3.0,2.0,9.3,2.0,1.5,1.0,2.0,1.0,1.5,2.5,1.0,1.5,2.0,3.5,2.0,7.5,2.5],
 [0,0,0.4,0.3,0,0.7,0,0.4,0.5,0,0,0,0, 1.0,2.0,1.5,2.5,3.0,7.7,2.0,1.5,1.0,2.0,1.0,0.5,1.5,1.0,2.0,1.5,1.0,0.5],
 [0,0,0.5,0.2,0,0.6,0,0.5,0.8,0,0,0,0, 2.8,2.0,1.0,1.5,0.5,1.0,2.0,1.0,1.5,0.5,1.0,2.0,1.0,0.5,1.5,2.5,1.0,1.5],
 [0,0,0.4,0.3,0,0.8,0,0.3,0.6,0,0,0,0, 0.5,1.5,2.5,1.0,1.5,2.0,1.0,2.5,1.5,1.0,2.0,1.5,1.0,2.0,3.0,7.1,2.0,6.0],
 [0,0,0.6,0.2,0,0.5,0,0.4,0.5,0,0,0,0, 1.0,2.0,1.0,0.5,1.0,1.5,2.0,1.0,0.5,1.5,1.0,2.0,1.5,0.5,1.0,2.0,1.5,1.0],
 [0,0,0.5,0.3,0,0.6,0,0.5,0.7,0,0,0,0, 4.0,5.5,2.0,1.0,2.0,1.5,1.0,2.0,1.0,0.5,1.5,1.0,2.0,1.5,1.0,2.0,6.9,2.5],
 [0,0,0.6,0.4,0,0.9,0,2.2,0.8,0,0,0,0, 3.0,16.7,4.0,2.0,1.5,1.0,2.0,1.5,1.0,2.0,1.0,0.5,1.0,1.5,2.0,1.0,0.5,1.0],
 [0,0,0.4,0.2,0,0.6,0,0.4,0.5,0,0,0,0, 0.5,1.0,1.5,2.0,1.0,0.5,1.5,2.0,1.0,2.5,1.5,1.0,0.5,1.0,1.5,0.5,1.0,1.5],
 [0,0,0.5,0.3,0,0.7,0,0.5,0.6,0,0,0,0, 1.0,2.0,1.5,1.0,2.0,1.5,1.0,2.0,1.5,3.0,6.0,2.0,1.5,6.0,2.0,1.0,1.5,1.0],
 [0,0,0.4,0.3,0,0.8,0,0.3,0.5,0,0,0,0, 0.5,1.5,1.0,2.0,3.5,2.0,1.0,1.5,2.0,1.0,0.5,1.5,1.0,2.0,1.0,0.5,1.5,1.0],
 [0,0,0.5,0.2,0,0.6,0,0.4,0.6,0,0,0,0, 1.0,1.5,2.0,1.0,0.5,1.5,1.0,0.5,1.0,2.0,1.5,1.0,2.0,1.0,0.5,1.5,1.0,0.5],
 [0,0,0.4,0.3,0,0.5,0,0.5,0.7,0,0,0,0, 0.8,2.0,1.5,1.0,2.5,1.5,1.0,2.0,1.0,1.5,0.5,1.0,2.0,1.5,1.0,7.6,2.0,1.0],
 [0,0,0.5,0.2,0,0.7,0,0.4,0.6,0,0,0,0, 1.0,1.5,2.5,4.0,1.5,1.0,2.0,1.0,1.5,2.0,9.4,3.0,1.0,1.5,2.0,1.0,0.5,1.0],
 [0,0,0.6,0.4,0,8.5,0.5,0.5,5.1,0.5,0,0,0, 1.0,2.0,1.0,1.5,2.0,1.0,1.5,2.0,1.0,0.5,1.5,2.0,1.0,0.5,1.0,2.0,1.5,1.0],
 [0,0,0.4,0.3,0,0.6,0,0.3,0.5,0,0,0,0, 0.5,1.0,2.0,1.5,1.0,0.5,1.0,2.0,1.5,1.0,0.5,1.5,1.0,2.0,1.5,1.0,0.5,1.0],
 [0,0,0.5,0.2,0,0.7,0,0.4,1.5,0.3,0,0,0, 2.0,3.0,2.0,1.0,1.5,2.0,1.0,0.5,1.5,1.0,2.0,1.5,1.0,0.5,1.0,2.0,1.0,1.5],
 [0,0,0.4,0.3,0,0.6,0,0.5,0.6,0,0,0,0, 1.5,7.0,3.0,1.5,1.0,2.0,1.5,1.0,0.5,1.5,2.0,1.0,1.5,2.5,1.0,0.5,1.0,4.5],
 [0,0,0.5,0.4,0,0.8,0,0.5,0.7,0,0,0,0, 1.0,2.0,7.9,2.0,1.5,1.0,2.0,1.0,0.5,1.0,1.5,2.0,1.0,0.5,1.5,1.0,2.0,1.0],
 [0,0,0.4,0.2,0,0.6,0,0.4,0.5,0,0,0,0, 4.0,3.0,1.5,1.0,2.0,1.5,1.0,2.5,1.5,1.0,2.0,1.0,2.5,1.5,2.0,3.5,1.5,1.0],
 [0,0,0.5,0.3,0,0.7,0,0.5,0.6,0,0,0,0, 0.5,1.5,1.0,2.0,1.0,1.5,2.0,3.5,2.0,1.5,6.3,2.0,1.0,1.5,1.0,0.5,1.0,0.5],
 [0,0,0.6,0.3,0,0.8,0,0.4,0.5,0,0,0,0, 1.0,2.0,1.5,1.0,2.0,1.5,1.0,0.5,1.5,2.0,1.0,1.5,1.0,0.5,1.0,1.5,2.0,1.0],
 [0,0,0.4,0.2,0,0.5,0,0.3,0.4,0,0,0,0, 0.8,1.5,1.0,1.5,1.0,0.5,1.0,1.5,1.0,2.0,1.0,0.5,1.0,1.5,0.5,1.0,1.5,0.5],
 [0,0,0.5,0.3,0,0.7,0,0.5,0.6,0,0,0,0, 1.0,2.0,1.5,2.0,1.5,1.0,2.0,3.0,2.0,12.9,3.0,1.5,2.0,1.0,1.5,2.5,1.5,1.0],
 [0,0,0.4,0.2,0,0.6,0,0.4,0.5,0,0,0,0, 1.0,1.5,2.5,1.0,1.5,2.0,3.0,2.0,11.0,2.0,1.0,1.5,2.0,1.0,0.5,1.5,1.0,0.5],
 [0,0,0.5,0.3,0,0.7,0,0.5,0.6,0,0,0,0, 0.5,1.0,1.5,1.0,2.0,1.5,1.0,0.5,1.5,2.0,1.0,1.5,2.0,1.0,3.0,13.9,2.5,1.0],
 [0,0,0.4,0.2,0,0.6,0,0.4,0.5,0,0,0,0, 1.0,3.0,2.0,1.5,2.5,1.0,1.5,2.0,1.0,2.5,3.0,2.0,13.5,3.0,1.5,2.0,6.5,1.5],
 [0,0,0.5,0.3,0,0.8,0,0.5,0.7,0,0,0,0, 1.5,2.5,2.0,1.5,1.0,2.0,11.7,2.0,1.0,1.5,2.0,1.0,0.5,1.5,1.0,2.0,1.0,0.5],
 [0,0,0.4,0.2,0,0.6,0,0.4,0.5,0,0,0,0, 0.5,1.0,1.5,1.0,0.5,1.0,1.5,1.0,0.5,1.0,1.5,1.0,0.5,1.0,1.5,1.0,0.5,1.0],
 [0,0,0.5,0.3,0,12.2,0.5,0.5,0.6,0,0,0,0, 1.0,2.0,1.5,1.0,1.5,2.0,1.0,1.5,2.0,1.0,0.5,1.0,1.5,2.0,1.0,0.5,1.0,1.5],
 [0,0,0.4,0.3,0,0.7,0,0.4,0.5,0,0,0,0, 0.5,1.5,1.0,1.5,2.0,1.0,0.5,1.0,1.5,1.0,0.5,1.5,1.0,0.5,1.0,1.5,1.0,0.5],
 [0,0,0.5,0.2,0,0.6,0,0.5,2.0,0,0,0,0, 1.0,2.0,1.5,1.0,2.0,1.5,2.5,1.5,1.0,2.0,1.5,2.0,8.6,2.0,1.5,1.0,0.5,1.0],
]

PRECIP_ZERO = -45  # precipitation (mm) is drawn on the same scale, 0 mm at -45

# ---------------- FIGURE ----------------
W, H = 740, 700
MONO = 'DejaVu Sans Mono'
plt.rcParams['font.family'] = [MONO, 'DejaVu Sans']
fig = plt.figure(figsize=(W / 100, H / 100), dpi=100)
fig.patch.set_facecolor('white')


def fx(px):
    return px / W


def fy(py):
    return 1 - py / H


AX_L, AX_R, AX_B = 50.7, 690.7, 600
ax = fig.add_axes([fx(AX_L), fy(AX_B), (AX_R - AX_L) / W, AX_B / H])
ax.set_xlim(0, 15)
ax.set_ylim(-53.1, 33.0)

# grid
for d in range(16):
    ax.axvline(d, color='#c0c0c0', lw=0.8, zorder=0)
for v in range(-40, 31, 5):
    if v == 0:
        ax.axhline(v, color='#9a9a9a', lw=1.8, zorder=0.5)
    elif v % 10 == 0:
        ax.axhline(v, color='#c0c0c0', lw=1.7, zorder=0)
    else:
        ax.axhline(v, color='#c8c8c8', lw=0.8, zorder=0)

for s in ['left', 'right', 'top']:
    ax.spines[s].set_visible(False)
ax.spines['bottom'].set_color('black')
ax.spines['bottom'].set_linewidth(1.4)

ax.set_yticks(left_ticks)
ax.set_yticklabels([str(v) for v in left_ticks])
ax.tick_params(axis='y', length=0, pad=13.5, labelsize=6.8)
ax.set_xticks(range(16))
ax.set_xticklabels(date_labels)
ax.tick_params(axis='x', length=0, pad=2, labelsize=6.8)
for lab in ax.get_xticklabels():
    lab.set_rotation(90)
    lab.set_ha('left')
    lab.set_va('top')

ax2 = ax.twinx()
ax2.set_ylim(ax.get_ylim())
ax2.set_yticks(left_ticks)
ax2.set_yticklabels(right_tick_labels)
ax2.tick_params(axis='y', length=0, pad=12, labelsize=6.8)
for s in ax2.spines.values():
    s.set_visible(False)

X6 = np.arange(61) * 0.25
X12 = np.arange(31) * 0.5

# ensemble members
for k in range(50):
    c = member_colors[k]
    kw = dict(color=c, lw=0.75, marker='+', ms=3.0, mew=0.6, zorder=2)
    for series, off in ((t850_members[k], 0), (t500_members[k], 0), (precip_members[k], PRECIP_ZERO)):
        n = min(len(series), len(X12))
        ax.plot(X12[:n], np.array(series[:n]) + off, **kw)

# control run (blue)
for series, off in ((control850, 0), (control500, 0), (controlP, PRECIP_ZERO)):
    ax.plot(X6[:len(series)], np.array(series) + off, color='#0000ff', lw=2.0,
            marker='+', ms=2.5, mew=0.8, zorder=3)
# deterministic run (black)
for series, off in ((cep850, 0), (cep500, 0), (cepP, PRECIP_ZERO)):
    ax.plot(X6[:len(series)], np.array(series) + off, color='black', lw=2.6, zorder=4)
# ensemble mean (red)
for series, off in ((mean850, 0), (mean500, 0), (meanP, PRECIP_ZERO)):
    ax.plot(X6[:len(series)], np.array(series) + off, color='#ff0000', lw=3.2, zorder=5)

FS = 7.1
fig.text(fx(60), fy(167), 'Temp. 850hPa', fontsize=FS, va='center', ha='left')
fig.text(fx(60), fy(305), 'Temp. 500hPa', fontsize=FS, va='center', ha='left')
fig.text(fx(60), fy(492), 'Précipitations', fontsize=FS, va='center', ha='left')
fig.text(fx(20), fy(607), '(°C)', fontsize=FS, va='center', ha='left')
fig.text(fx(709), fy(607), '(mm)', fontsize=FS, va='center', ha='left')

# legend lines
fig.add_artist(Line2D([fx(35), fx(65)], [fy(637), fy(637)], color='#ff0000', lw=3.0))
fig.text(fx(75), fy(637), 'Moyenne des scénarios', fontsize=FS, va='center', ha='left')
fig.add_artist(Line2D([fx(225), fx(256)], [fy(637), fy(637)], color='#0000ff', lw=3.0))
fig.text(fx(264), fy(637), 'Run de contrôle', fontsize=FS, va='center', ha='left')
fig.add_artist(Line2D([fx(225), fx(256)], [fy(647), fy(647)], color='black', lw=3.0))
fig.text(fx(264), fy(647), 'Run CEP/ECMWF', fontsize=FS, va='center', ha='left')

# member colour key
fig.text(fx(370), fy(652), '50 Perts.', fontsize=FS, va='center', ha='left')
BX0, BW = 429.0, 10.95
for k in range(25):
    x0 = BX0 + k * BW
    fig.add_artist(Rectangle((fx(x0), fy(652)), (BW - 0.8) / W, 7 / H,
                             transform=fig.transFigure, facecolor=member_colors[k], edgecolor='none'))
    fig.add_artist(Rectangle((fx(x0), fy(659)), (BW - 0.8) / W, 7 / H,
                             transform=fig.transFigure, facecolor=member_colors[k + 25], edgecolor='none'))
    fig.text(fx(x0 + BW / 2), fy(640.5), f'{k + 1:02d}', fontsize=5.2, weight='bold',
             va='center', ha='center')
    fig.text(fx(x0 + BW / 2), fy(663.5), f'{k + 26:02d}', fontsize=5.2, weight='bold',
             va='center', ha='center')

# title box
fig.add_artist(Rectangle((fx(20.5), fy(699)), (440 - 20.5) / W, 31.5 / H,
                         transform=fig.transFigure, fill=False, edgecolor='black', lw=1.1))
fig.text(fx(30), fy(677.5), 'Diagramme ensembles ECMWF/CEP 0.25° sur 360h pour Paris',
         fontsize=8.2, weight='bold', va='center', ha='left')
fig.text(fx(30), fy(691.5), 'Températures 850hPa et 500hPa (°C) , précipitations (mm)',
         fontsize=7.0, va='center', ha='left')
fig.text(fx(449), fy(675), 'Ensemble ECMWF/CEP du 29/09/2024 - 00Z', fontsize=FS,
         va='center', ha='left')
fig.text(fx(449), fy(691.5), 'Copyright 2024 Meteociel.fr - ECMWF', fontsize=8.3,
         weight='bold', va='center', ha='left')

fig.savefig('out.png', dpi=100, facecolor='white')
